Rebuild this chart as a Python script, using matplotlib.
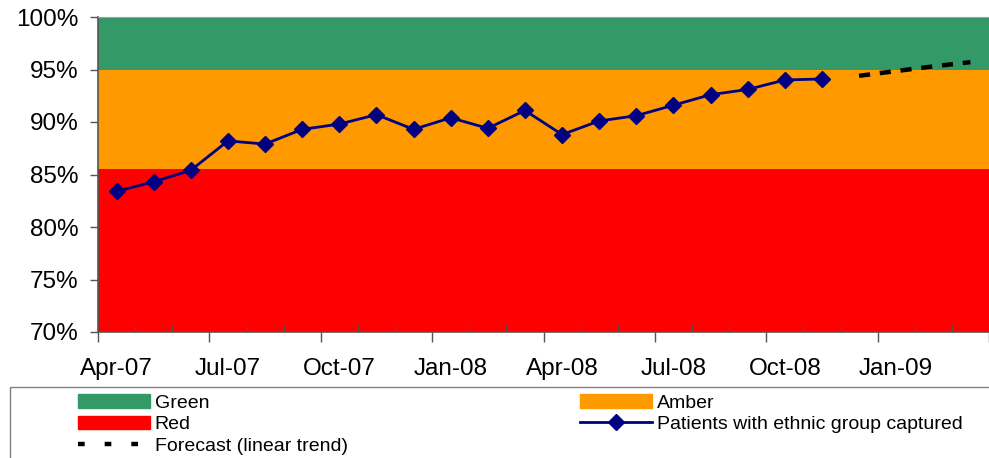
import numpy as np
import matplotlib
matplotlib.use("Agg")
import matplotlib.pyplot as plt
from matplotlib.patches import Patch, Rectangle
from matplotlib.lines import Line2D

plt.rcParams['font.family'] = ['Liberation Sans', 'DejaVu Sans']

# months on the category axis
months = ['Apr-07', 'May-07', 'Jun-07', 'Jul-07', 'Aug-07', 'Sep-07', 'Oct-07', 'Nov-07',
          'Dec-07', 'Jan-08', 'Feb-08', 'Mar-08', 'Apr-08', 'May-08', 'Jun-08', 'Jul-08',
          'Aug-08', 'Sep-08', 'Oct-08', 'Nov-08', 'Dec-08', 'Jan-09', 'Feb-09', 'Mar-09']

# patients with ethnic group captured (%), Apr-07 .. Nov-08
captured = [83.4, 84.3, 85.4, 88.2, 87.9, 89.3, 89.8, 90.7, 89.3, 90.4,
            89.4, 91.1, 88.8, 90.1, 90.6, 91.6, 92.6, 93.1, 94.0, 94.1]

# forecast (linear trend), Dec-08 .. Mar-09
forecast = [94.4, 94.85, 95.3, 95.7]

# RAG bands (%)
red_band = (70.0, 85.55)
amber_band = (85.55, 95.0)
green_band = (95.0, 100.0)

c_green = '#339966'
c_amber = '#FF9900'
c_red = '#FF0000'
c_line = '#000080'

fig = plt.figure(figsize=(9.89, 4.58), dpi=100)
ax = fig.add_axes([98/989, 1 - 332/458, 891/989, 315/458])

ax.axhspan(*red_band, color=c_red, lw=0, zorder=0)
ax.axhspan(*amber_band, color=c_amber, lw=0, zorder=0)
ax.axhspan(*green_band, color=c_green, lw=0, zorder=0)

x = np.arange(len(months))
n = len(captured)
ax.plot(x[:n], captured, color=c_line, lw=2, marker='D', ms=8.5, zorder=3)
ax.plot(x[n:n + len(forecast)], forecast, color='black', lw=3.2,
        linestyle=(0, (2.5, 2.2)), zorder=3)

ax.set_xlim(-0.5, -0.5 + 891/37.55)
ax.set_ylim(70, 100)

yt = np.arange(70, 101, 5)
ax.set_yticks(yt, [f'{v}%' for v in yt])
ax.tick_params(axis='y', direction='out', length=6, width=1, color='#555555',
               labelsize=17.5, pad=8)

bounds = np.arange(len(months) + 1) - 0.5
ax.set_xticks(bounds[::3], [''] * len(bounds[::3]))
ax.set_xticks([b for i, b in enumerate(bounds) if i % 3], minor=True)
ax.tick_params(axis='x', which='major', direction='out', length=7, width=1, color='#555555')
ax.tick_params(axis='x', which='minor', direction='in', length=4, width=1, color='#555555')

sec = ax.secondary_xaxis('bottom')
sec.set_xticks(x[::3], months[::3])
sec.tick_params(length=0, labelsize=17.5, pad=19)
sec.spines['bottom'].set_visible(False)

for s in ['left', 'bottom']:
    ax.spines[s].set_color('#555555')
    ax.spines[s].set_linewidth(1.2)
ax.spines['top'].set_color('#a0a0a0')
ax.spines['right'].set_visible(False)

# legend box
fig.patches.append(Rectangle((10/989, -0.05), 1.0, (458 - 387)/458 + 0.05,
                             transform=fig.transFigure, fill=False,
                             edgecolor='#808080', lw=1))

handles = [Patch(color=c_green), Patch(color=c_red),
           Line2D([], [], color='black', lw=3.2, linestyle=(0, (1.5, 4.5))),
           Patch(color=c_amber),
           Line2D([], [], color=c_line, lw=2, marker='D', ms=8.5)]
labels = ['Green', 'Red', 'Forecast (linear trend)', 'Amber',
          'Patients with ethnic group captured']
fig.legend(handles, labels, ncol=2, frameon=False, loc='upper left',
           bbox_to_anchor=(78/989, 1 - 394/458), borderpad=0, borderaxespad=0,
           fontsize=14, handlelength=3.7, handletextpad=0.25,
           labelspacing=0.2, columnspacing=11.95)

fig.savefig('out.png', dpi=100)
